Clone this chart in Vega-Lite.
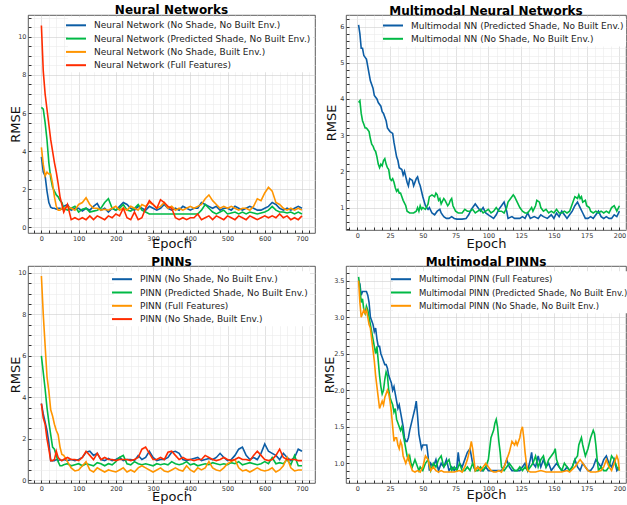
{
"$schema": "https://vega.github.io/schema/vega-lite/v6.json",
"padding": {"left": 8, "top": 3, "right": 0, "bottom": 0},
"background": "white",
"bounds": "flush",
"columns": 2,
"spacing": {"row": 33, "column": 31},
"resolve": {"scale": {"color": "independent"}, "legend": {"color": "independent"}},
"config": {
  "view": {"stroke": "#333", "strokeWidth": 0.8},
  "title": {"font": "DejaVu Sans", "fontSize": 12, "fontWeight": "bold", "color": "#000", "offset": -2.5, "anchor": "middle"},
  "axis": {"labelFont": "DejaVu Sans", "labelFontSize": 6.5, "labelColor": "#333", "titleFont": "DejaVu Sans", "titleFontSize": 13, "titleFontWeight": "normal", "titleColor": "#111", "domain": false, "tickColor": "#333", "tickSize": -3, "labelPadding": 5, "gridWidth": 0.6, "labelOverlap": false, "labelFlush": false},
  "legend": {"orient": "none", "symbolType": "M-2,0H2", "symbolStrokeWidth": 2, "symbolSize": 100, "labelFont": "DejaVu Sans", "labelFontSize": 9, "labelColor": "#222", "padding": 2, "fillColor": "white", "rowPadding": 2.3, "labelOffset": 12, "title": null, "labelLimit": 400}
},
"concat": [
{
  "width": 287, "height": 218,
  "title": "Neural Networks",
  "data": {"values": [
{"x":0,"a":3.7,"b":6.3,"c":4.2,"d":10.6},
{"x":5,"a":2.9,"b":6.2,"c":3.3,"d":8.2},
{"x":10,"a":2.7,"b":5.5,"c":2.7,"d":7.0},
{"x":15,"a":1.9,"b":4.6,"c":2.9,"d":6.2},
{"x":20,"a":1.3,"b":3.4,"c":2.8,"d":5.4},
{"x":25,"a":1.05,"b":2.6,"c":2.8,"d":4.6},
{"x":30,"a":1.0,"b":2.1,"c":2.3,"d":4.0},
{"x":35,"a":1.0,"b":1.9,"c":1.6,"d":3.4},
{"x":40,"a":0.95,"b":1.7,"c":1.1,"d":2.9},
{"x":45,"a":1.0,"b":1.6,"c":0.9,"d":2.3},
{"x":50,"a":1.0,"b":1.4,"c":0.9,"d":1.6},
{"x":55,"a":0.95,"b":1.3,"c":1.0,"d":1.2},
{"x":60,"a":1.1,"b":1.0,"c":1.0,"d":0.8},
{"x":70,"a":1.2,"b":0.9,"c":1.1,"d":1.2},
{"x":80,"a":0.9,"b":1.0,"c":1.0,"d":0.4},
{"x":90,"a":1.0,"b":1.1,"c":0.9,"d":0.5},
{"x":100,"a":1.0,"b":0.8,"c":1.2,"d":0.4},
{"x":110,"a":0.85,"b":0.95,"c":1.3,"d":0.5},
{"x":120,"a":1.0,"b":1.0,"c":1.55,"d":0.4},
{"x":130,"a":0.9,"b":0.8,"c":1.2,"d":0.6},
{"x":140,"a":1.1,"b":0.85,"c":1.0,"d":0.4},
{"x":150,"a":1.25,"b":0.9,"c":1.0,"d":0.6},
{"x":160,"a":0.9,"b":1.0,"c":0.9,"d":0.5},
{"x":170,"a":1.0,"b":1.3,"c":0.95,"d":0.4},
{"x":180,"a":0.8,"b":1.5,"c":0.9,"d":0.6},
{"x":190,"a":1.0,"b":1.0,"c":1.0,"d":0.5},
{"x":200,"a":0.9,"b":0.9,"c":1.1,"d":0.7},
{"x":210,"a":1.1,"b":1.0,"c":0.9,"d":0.6},
{"x":220,"a":1.3,"b":1.2,"c":1.0,"d":1.0},
{"x":230,"a":1.2,"b":0.9,"c":0.9,"d":0.5},
{"x":240,"a":1.0,"b":0.85,"c":1.1,"d":0.4},
{"x":250,"a":0.9,"b":1.0,"c":1.0,"d":0.8},
{"x":260,"a":1.1,"b":1.2,"c":0.9,"d":0.4},
{"x":270,"a":1.0,"b":0.9,"c":1.2,"d":0.5},
{"x":280,"a":0.9,"b":0.8,"c":1.1,"d":1.0},
{"x":290,"a":1.1,"b":0.7,"c":1.3,"d":1.4},
{"x":300,"a":1.0,"b":0.7,"c":1.2,"d":1.2},
{"x":310,"a":0.9,"b":0.7,"c":1.0,"d":1.0},
{"x":320,"a":1.0,"b":0.7,"c":1.1,"d":1.45},
{"x":330,"a":1.2,"b":0.7,"c":1.3,"d":1.3},
{"x":340,"a":1.0,"b":0.7,"c":1.0,"d":1.1},
{"x":350,"a":0.9,"b":0.7,"c":1.1,"d":1.0},
{"x":360,"a":1.0,"b":0.7,"c":0.9,"d":0.5},
{"x":370,"a":0.9,"b":0.7,"c":1.0,"d":0.4},
{"x":380,"a":1.1,"b":0.7,"c":0.9,"d":0.5},
{"x":390,"a":1.0,"b":0.7,"c":1.0,"d":0.4},
{"x":400,"a":0.9,"b":0.7,"c":1.1,"d":0.5},
{"x":410,"a":1.0,"b":0.7,"c":1.0,"d":0.5},
{"x":420,"a":1.0,"b":0.7,"c":1.1,"d":0.7},
{"x":430,"a":1.3,"b":0.9,"c":1.2,"d":0.4},
{"x":440,"a":1.2,"b":1.2,"c":1.5,"d":0.5},
{"x":450,"a":1.1,"b":1.0,"c":1.7,"d":0.6},
{"x":460,"a":1.0,"b":0.8,"c":1.4,"d":0.4},
{"x":470,"a":1.1,"b":0.7,"c":1.2,"d":0.6},
{"x":480,"a":0.9,"b":0.8,"c":1.0,"d":0.5},
{"x":490,"a":1.0,"b":0.9,"c":1.1,"d":0.4},
{"x":500,"a":1.0,"b":0.7,"c":1.0,"d":0.6},
{"x":510,"a":0.9,"b":0.75,"c":1.1,"d":0.5},
{"x":520,"a":1.1,"b":0.8,"c":1.0,"d":0.4},
{"x":530,"a":1.0,"b":0.7,"c":0.9,"d":0.6},
{"x":540,"a":0.9,"b":0.8,"c":1.0,"d":0.5},
{"x":550,"a":1.0,"b":0.7,"c":1.0,"d":0.4},
{"x":560,"a":1.1,"b":0.8,"c":0.9,"d":0.6},
{"x":570,"a":1.0,"b":0.75,"c":1.1,"d":0.5},
{"x":580,"a":0.9,"b":0.7,"c":1.5,"d":0.4},
{"x":590,"a":0.9,"b":0.75,"c":1.4,"d":0.5},
{"x":600,"a":1.0,"b":0.8,"c":1.8,"d":0.6},
{"x":610,"a":1.1,"b":0.9,"c":2.1,"d":0.5},
{"x":620,"a":1.3,"b":1.1,"c":1.9,"d":0.6},
{"x":630,"a":1.2,"b":0.9,"c":1.3,"d":0.5},
{"x":640,"a":1.0,"b":0.8,"c":1.2,"d":0.7},
{"x":650,"a":0.9,"b":0.8,"c":1.0,"d":0.5},
{"x":660,"a":1.0,"b":0.75,"c":0.9,"d":0.6},
{"x":670,"a":0.9,"b":0.8,"c":1.0,"d":0.4},
{"x":680,"a":1.0,"b":0.7,"c":0.9,"d":0.5},
{"x":690,"a":1.1,"b":0.8,"c":1.0,"d":0.4},
{"x":700,"a":1.0,"b":0.7,"c":0.9,"d":0.6}
  ]},
  "transform": [{"fold": ["a","b","c","d"], "as": ["s","y"]}],
  "mark": {"type": "line", "strokeWidth": 1.6},
  "encoding": {
    "x": {"field": "x", "type": "quantitative", "scale": {"domain": [-36, 735], "nice": false, "zero": false},
      "axis": {"title": "Epoch", "titleY": 14, "titleBaseline": "alphabetic",
        "values": [-20,0,20,40,60,80,100,120,140,160,180,200,220,240,260,280,300,320,340,360,380,400,420,440,460,480,500,520,540,560,580,600,620,640,660,680,700,720],
        "labelExpr": "datum.value % 100 === 0 ? datum.label : ''",
        "gridColor": {"condition": {"test": "datum.value % 100 === 0", "value": "#cfcfcf"}, "value": "#ebebeb"}}},
    "y": {"field": "y", "type": "quantitative", "scale": {"domain": [-0.3, 11.15], "nice": false, "zero": false},
      "axis": {"title": "RMSE", "titleX": -9, "titleBaseline": "alphabetic",
        "values": [0,0.5,1,1.5,2,2.5,3,3.5,4,4.5,5,5.5,6,6.5,7,7.5,8,8.5,9,9.5,10,10.5,11],
        "labelExpr": "datum.value % 2 === 0 ? format(datum.value, 'd') : ''",
        "gridColor": {"condition": {"test": "datum.value % 2 === 0", "value": "#cfcfcf"}, "value": "#ebebeb"}}},
    "color": {"field": "s", "type": "nominal", "scale": {"domain": ["a","b","c","d"], "range": ["#0C5DA5","#00B945","#FF9500","#FF2C00"]},
      "legend": {"legendX": 40, "legendY": 2.3, "labelExpr": "datum.value=='a'?'Neural Network (No Shade, No Built Env.)':datum.value=='b'?'Neural Network (Predicted Shade, No Built Env.)':datum.value=='c'?'Neural Network (No Shade, Built Env.)':'Neural Network (Full Features)'"}}
  }
},
{
  "width": 280, "height": 215,
  "title": "Multimodal Neural Networks",
  "data": {"values": [
{"s":"a","x":1,"y":6.05},{"s":"a","x":2,"y":5.8},{"s":"a","x":3,"y":5.4},{"s":"a","x":4,"y":5.4},{"s":"a","x":5,"y":5.2},{"s":"a","x":6,"y":5.15},{"s":"a","x":7,"y":5.1},{"s":"a","x":8,"y":4.9},{"s":"a","x":9,"y":4.7},{"s":"a","x":10,"y":4.5},{"s":"a","x":12,"y":4.3},{"s":"a","x":13,"y":4.1},{"s":"a","x":15,"y":4.0},{"s":"a","x":16,"y":3.9},{"s":"a","x":18,"y":3.8},{"s":"a","x":19,"y":3.65},{"s":"a","x":20,"y":3.6},{"s":"a","x":22,"y":3.4},{"s":"a","x":23,"y":3.2},{"s":"a","x":25,"y":3.1},{"s":"a","x":27,"y":3.05},{"s":"a","x":28,"y":2.8},{"s":"a","x":30,"y":2.4},{"s":"a","x":31,"y":2.3},{"s":"a","x":32,"y":2.1},{"s":"a","x":34,"y":2.05},{"s":"a","x":35,"y":1.9},{"s":"a","x":36,"y":2.0},{"s":"a","x":38,"y":1.7},{"s":"a","x":39,"y":1.6},{"s":"a","x":40,"y":1.8},{"s":"a","x":42,"y":1.75},{"s":"a","x":43,"y":1.6},{"s":"a","x":45,"y":1.8},{"s":"a","x":46,"y":1.85},{"s":"a","x":47,"y":1.7},{"s":"a","x":48,"y":1.6},{"s":"a","x":50,"y":1.3},{"s":"a","x":52,"y":1.05},{"s":"a","x":54,"y":0.95},{"s":"a","x":55,"y":1.0},{"s":"a","x":57,"y":0.85},{"s":"a","x":59,"y":0.8},{"s":"a","x":61,"y":0.9},{"s":"a","x":63,"y":0.95},{"s":"a","x":64,"y":0.85},{"s":"a","x":66,"y":0.75},{"s":"a","x":68,"y":0.7},{"s":"a","x":70,"y":0.7},{"s":"a","x":72,"y":0.75},{"s":"a","x":74,"y":0.7},{"s":"a","x":76,"y":0.68},{"s":"a","x":80,"y":0.68},{"s":"a","x":83,"y":0.7},{"s":"a","x":85,"y":0.8},{"s":"a","x":87,"y":0.95},{"s":"a","x":89,"y":1.05},{"s":"a","x":90,"y":1.1},{"s":"a","x":92,"y":1.0},{"s":"a","x":94,"y":0.9},{"s":"a","x":96,"y":1.0},{"s":"a","x":98,"y":0.85},{"s":"a","x":100,"y":0.8},{"s":"a","x":102,"y":0.75},{"s":"a","x":104,"y":0.7},{"s":"a","x":106,"y":0.8},{"s":"a","x":108,"y":0.95},{"s":"a","x":110,"y":1.05},{"s":"a","x":112,"y":1.15},{"s":"a","x":114,"y":0.9},{"s":"a","x":115,"y":0.7},{"s":"a","x":118,"y":0.75},{"s":"a","x":120,"y":0.7},{"s":"a","x":124,"y":0.7},{"s":"a","x":126,"y":0.75},{"s":"a","x":128,"y":0.7},{"s":"a","x":130,"y":0.85},{"s":"a","x":132,"y":0.7},{"s":"a","x":135,"y":0.75},{"s":"a","x":138,"y":0.7},{"s":"a","x":140,"y":0.8},{"s":"a","x":142,"y":0.75},{"s":"a","x":145,"y":0.7},{"s":"a","x":148,"y":0.8},{"s":"a","x":150,"y":0.7},{"s":"a","x":152,"y":0.85},{"s":"a","x":154,"y":0.75},{"s":"a","x":156,"y":0.9},{"s":"a","x":158,"y":0.8},{"s":"a","x":160,"y":0.7},{"s":"a","x":162,"y":0.8},{"s":"a","x":164,"y":0.9},{"s":"a","x":166,"y":1.05},{"s":"a","x":168,"y":1.15},{"s":"a","x":170,"y":1.0},{"s":"a","x":172,"y":0.85},{"s":"a","x":174,"y":0.7},{"s":"a","x":176,"y":0.7},{"s":"a","x":178,"y":0.75},{"s":"a","x":180,"y":0.7},{"s":"a","x":182,"y":0.8},{"s":"a","x":184,"y":0.9},{"s":"a","x":186,"y":0.75},{"s":"a","x":188,"y":0.7},{"s":"a","x":190,"y":0.75},{"s":"a","x":192,"y":0.7},{"s":"a","x":194,"y":0.7},{"s":"a","x":196,"y":0.8},{"s":"a","x":198,"y":0.75},{"s":"a","x":200,"y":0.9},
{"s":"b","x":1,"y":3.9},{"s":"b","x":2,"y":3.95},{"s":"b","x":3,"y":3.6},{"s":"b","x":4,"y":3.4},{"s":"b","x":5,"y":3.3},{"s":"b","x":6,"y":3.2},{"s":"b","x":7,"y":3.2},{"s":"b","x":8,"y":3.15},{"s":"b","x":9,"y":3.1},{"s":"b","x":10,"y":2.9},{"s":"b","x":11,"y":2.75},{"s":"b","x":12,"y":2.7},{"s":"b","x":13,"y":2.6},{"s":"b","x":14,"y":2.55},{"s":"b","x":15,"y":2.4},{"s":"b","x":16,"y":2.2},{"s":"b","x":17,"y":2.1},{"s":"b","x":18,"y":2.2},{"s":"b","x":19,"y":2.15},{"s":"b","x":20,"y":2.3},{"s":"b","x":21,"y":2.35},{"s":"b","x":22,"y":2.2},{"s":"b","x":23,"y":2.1},{"s":"b","x":24,"y":2.05},{"s":"b","x":25,"y":1.8},{"s":"b","x":26,"y":1.75},{"s":"b","x":27,"y":1.8},{"s":"b","x":28,"y":1.7},{"s":"b","x":29,"y":1.55},{"s":"b","x":30,"y":1.45},{"s":"b","x":31,"y":1.5},{"s":"b","x":32,"y":1.4},{"s":"b","x":33,"y":1.4},{"s":"b","x":35,"y":1.2},{"s":"b","x":37,"y":1.05},{"s":"b","x":38,"y":0.9},{"s":"b","x":40,"y":0.85},{"s":"b","x":43,"y":0.85},{"s":"b","x":45,"y":0.9},{"s":"b","x":46,"y":1.0},{"s":"b","x":47,"y":0.9},{"s":"b","x":48,"y":1.05},{"s":"b","x":49,"y":0.95},{"s":"b","x":50,"y":1.0},{"s":"b","x":52,"y":0.95},{"s":"b","x":54,"y":1.1},{"s":"b","x":55,"y":1.3},{"s":"b","x":57,"y":1.35},{"s":"b","x":59,"y":1.3},{"s":"b","x":60,"y":1.4},{"s":"b","x":61,"y":1.35},{"s":"b","x":62,"y":1.2},{"s":"b","x":63,"y":1.25},{"s":"b","x":64,"y":1.1},{"s":"b","x":66,"y":1.25},{"s":"b","x":67,"y":1.2},{"s":"b","x":69,"y":1.05},{"s":"b","x":70,"y":1.1},{"s":"b","x":71,"y":1.2},{"s":"b","x":72,"y":1.25},{"s":"b","x":73,"y":1.05},{"s":"b","x":75,"y":0.9},{"s":"b","x":77,"y":0.85},{"s":"b","x":80,"y":0.85},{"s":"b","x":82,"y":0.95},{"s":"b","x":84,"y":0.9},{"s":"b","x":86,"y":0.9},{"s":"b","x":88,"y":0.95},{"s":"b","x":90,"y":0.85},{"s":"b","x":92,"y":0.9},{"s":"b","x":94,"y":0.95},{"s":"b","x":96,"y":0.85},{"s":"b","x":98,"y":0.9},{"s":"b","x":100,"y":0.95},{"s":"b","x":102,"y":0.85},{"s":"b","x":104,"y":0.9},{"s":"b","x":106,"y":1.0},{"s":"b","x":108,"y":0.9},{"s":"b","x":110,"y":0.9},{"s":"b","x":112,"y":0.85},{"s":"b","x":114,"y":1.0},{"s":"b","x":115,"y":1.15},{"s":"b","x":117,"y":1.25},{"s":"b","x":119,"y":1.35},{"s":"b","x":120,"y":1.3},{"s":"b","x":122,"y":1.15},{"s":"b","x":124,"y":1.0},{"s":"b","x":126,"y":0.9},{"s":"b","x":128,"y":0.85},{"s":"b","x":130,"y":0.85},{"s":"b","x":132,"y":0.95},{"s":"b","x":133,"y":1.0},{"s":"b","x":134,"y":0.9},{"s":"b","x":136,"y":1.05},{"s":"b","x":137,"y":1.2},{"s":"b","x":139,"y":1.15},{"s":"b","x":140,"y":1.0},{"s":"b","x":142,"y":0.9},{"s":"b","x":144,"y":0.95},{"s":"b","x":146,"y":0.85},{"s":"b","x":148,"y":0.9},{"s":"b","x":150,"y":0.85},{"s":"b","x":152,"y":0.95},{"s":"b","x":154,"y":0.85},{"s":"b","x":156,"y":0.85},{"s":"b","x":158,"y":0.9},{"s":"b","x":160,"y":0.85},{"s":"b","x":162,"y":0.9},{"s":"b","x":164,"y":1.1},{"s":"b","x":166,"y":1.3},{"s":"b","x":168,"y":1.25},{"s":"b","x":169,"y":1.35},{"s":"b","x":170,"y":1.25},{"s":"b","x":171,"y":1.3},{"s":"b","x":172,"y":1.15},{"s":"b","x":174,"y":1.2},{"s":"b","x":175,"y":1.05},{"s":"b","x":177,"y":1.0},{"s":"b","x":178,"y":0.9},{"s":"b","x":180,"y":0.85},{"s":"b","x":182,"y":0.9},{"s":"b","x":184,"y":0.85},{"s":"b","x":186,"y":0.9},{"s":"b","x":188,"y":0.85},{"s":"b","x":190,"y":0.9},{"s":"b","x":192,"y":0.85},{"s":"b","x":194,"y":1.0},{"s":"b","x":196,"y":1.05},{"s":"b","x":198,"y":0.9},{"s":"b","x":200,"y":1.05}
  ]},
  "mark": {"type": "line", "strokeWidth": 1.6},
  "encoding": {
    "x": {"field": "x", "type": "quantitative", "scale": {"domain": [-8.6, 205], "nice": false, "zero": false},
      "axis": {"title": "Epoch", "titleY": 17, "titleBaseline": "alphabetic",
        "values": [-6.25,0,6.25,12.5,18.75,25,31.25,37.5,43.75,50,56.25,62.5,68.75,75,81.25,87.5,93.75,100,106.25,112.5,118.75,125,131.25,137.5,143.75,150,156.25,162.5,168.75,175,181.25,187.5,193.75,200],
        "labelExpr": "datum.value % 25 === 0 ? datum.label : ''",
        "gridColor": {"condition": {"test": "datum.value % 25 === 0", "value": "#cfcfcf"}, "value": "#ebebeb"}}},
    "y": {"field": "y", "type": "quantitative", "scale": {"domain": [0.38, 6.32], "nice": false, "zero": false},
      "axis": {"title": "RMSE", "titleX": -11, "titleBaseline": "alphabetic",
        "values": [0.4,0.6,0.8,1,1.2,1.4,1.6,1.8,2,2.2,2.4,2.6,2.8,3,3.2,3.4,3.6,3.8,4,4.2,4.4,4.6,4.8,5,5.2,5.4,5.6,5.8,6,6.2],
        "labelExpr": "abs(datum.value - round(datum.value)) < 0.001 ? format(datum.value, 'd') : ''",
        "gridColor": {"condition": {"test": "abs(datum.value - round(datum.value)) < 0.001", "value": "#cfcfcf"}, "value": "#ebebeb"}}},
    "color": {"field": "s", "type": "nominal", "scale": {"domain": ["a","b"], "range": ["#0C5DA5","#00B945"]},
      "legend": {"legendX": 39, "legendY": 2.5, "labelFontSize": 9, "labelExpr": "datum.value=='a'?'Multimodal NN (Predicted Shade, No Built Env.)':'Multimodal NN (No Shade, No Built Env.)'"}}
  }
},
{
  "width": 287, "height": 217,
  "title": "PINNs",
  "data": {"values": [
{"x":0,"a":3.7,"b":6.0,"c":9.85,"d":3.7},
{"x":5,"a":3.2,"b":5.2,"c":8.0,"d":3.0},
{"x":10,"a":2.8,"b":4.4,"c":6.5,"d":2.7},
{"x":15,"a":2.4,"b":3.5,"c":5.0,"d":2.0},
{"x":20,"a":1.8,"b":2.8,"c":4.3,"d":1.5},
{"x":25,"a":0.95,"b":2.2,"c":3.4,"d":0.95},
{"x":30,"a":0.95,"b":1.6,"c":3.1,"d":0.95},
{"x":35,"a":0.95,"b":1.5,"c":2.7,"d":1.0},
{"x":40,"a":1.0,"b":1.2,"c":2.4,"d":1.4},
{"x":45,"a":0.95,"b":0.9,"c":2.2,"d":1.1},
{"x":50,"a":1.0,"b":0.7,"c":1.6,"d":1.0},
{"x":55,"a":0.95,"b":0.7,"c":1.25,"d":0.95},
{"x":60,"a":1.0,"b":0.75,"c":1.2,"d":1.0},
{"x":70,"a":0.95,"b":0.8,"c":0.9,"d":1.1},
{"x":80,"a":1.0,"b":0.7,"c":0.6,"d":1.0},
{"x":90,"a":0.95,"b":0.75,"c":0.45,"d":1.0},
{"x":100,"a":1.0,"b":0.8,"c":0.5,"d":0.95},
{"x":110,"a":1.1,"b":0.7,"c":0.7,"d":1.1},
{"x":120,"a":1.35,"b":0.8,"c":0.9,"d":1.4},
{"x":130,"a":1.4,"b":0.75,"c":0.5,"d":1.2},
{"x":140,"a":1.2,"b":0.7,"c":0.4,"d":1.0},
{"x":150,"a":1.3,"b":0.85,"c":0.6,"d":1.3},
{"x":160,"a":1.0,"b":0.8,"c":0.5,"d":1.0},
{"x":170,"a":0.95,"b":0.7,"c":0.4,"d":1.1},
{"x":180,"a":1.05,"b":0.8,"c":0.5,"d":1.0},
{"x":190,"a":0.95,"b":0.75,"c":0.45,"d":1.0},
{"x":200,"a":1.0,"b":0.9,"c":0.4,"d":0.95},
{"x":210,"a":1.1,"b":1.1,"c":0.5,"d":1.0},
{"x":220,"a":0.95,"b":1.2,"c":0.6,"d":1.0},
{"x":230,"a":1.0,"b":0.8,"c":0.4,"d":1.0},
{"x":240,"a":1.0,"b":0.75,"c":0.5,"d":0.95},
{"x":250,"a":0.95,"b":0.9,"c":0.4,"d":1.0},
{"x":260,"a":1.2,"b":0.8,"c":0.6,"d":1.1},
{"x":270,"a":1.0,"b":0.75,"c":0.7,"d":1.5},
{"x":280,"a":1.1,"b":0.8,"c":0.6,"d":1.6},
{"x":290,"a":1.4,"b":0.75,"c":0.5,"d":1.3},
{"x":300,"a":1.1,"b":0.7,"c":0.4,"d":1.0},
{"x":310,"a":0.95,"b":0.8,"c":0.5,"d":1.0},
{"x":320,"a":1.0,"b":0.75,"c":0.6,"d":1.1},
{"x":330,"a":1.0,"b":0.8,"c":0.45,"d":1.0},
{"x":340,"a":1.1,"b":0.75,"c":0.4,"d":1.35},
{"x":350,"a":1.35,"b":0.9,"c":0.5,"d":1.4},
{"x":360,"a":1.4,"b":0.8,"c":0.6,"d":1.2},
{"x":370,"a":1.3,"b":0.75,"c":0.5,"d":1.0},
{"x":380,"a":1.0,"b":0.8,"c":0.45,"d":1.1},
{"x":390,"a":0.95,"b":0.9,"c":0.7,"d":1.0},
{"x":400,"a":1.0,"b":0.75,"c":0.5,"d":1.0},
{"x":410,"a":1.05,"b":0.8,"c":0.4,"d":0.95},
{"x":420,"a":1.1,"b":0.7,"c":0.6,"d":1.0},
{"x":430,"a":0.95,"b":0.75,"c":0.5,"d":1.0},
{"x":440,"a":1.0,"b":0.8,"c":0.6,"d":1.2},
{"x":450,"a":1.05,"b":0.75,"c":0.9,"d":1.1},
{"x":460,"a":1.0,"b":0.85,"c":0.6,"d":1.0},
{"x":470,"a":1.1,"b":0.8,"c":0.5,"d":0.95},
{"x":480,"a":1.3,"b":0.75,"c":0.45,"d":1.0},
{"x":490,"a":1.1,"b":0.8,"c":0.6,"d":1.1},
{"x":500,"a":0.95,"b":0.75,"c":0.8,"d":1.0},
{"x":510,"a":1.0,"b":0.85,"c":0.9,"d":0.95},
{"x":520,"a":1.2,"b":0.8,"c":1.0,"d":1.0},
{"x":530,"a":1.5,"b":0.9,"c":0.6,"d":1.1},
{"x":540,"a":1.6,"b":0.75,"c":0.45,"d":1.0},
{"x":550,"a":1.2,"b":0.8,"c":0.5,"d":1.0},
{"x":560,"a":1.0,"b":0.85,"c":0.4,"d":0.95},
{"x":570,"a":1.1,"b":0.8,"c":0.5,"d":1.2},
{"x":580,"a":1.0,"b":0.75,"c":0.6,"d":1.4},
{"x":590,"a":1.3,"b":0.8,"c":0.5,"d":1.2},
{"x":600,"a":1.75,"b":0.9,"c":0.45,"d":1.0},
{"x":610,"a":1.4,"b":0.8,"c":0.5,"d":0.95},
{"x":620,"a":1.3,"b":1.1,"c":0.6,"d":1.0},
{"x":630,"a":1.2,"b":0.8,"c":0.4,"d":1.2},
{"x":640,"a":1.0,"b":0.85,"c":0.5,"d":1.5},
{"x":650,"a":1.3,"b":0.8,"c":0.7,"d":1.1},
{"x":660,"a":1.1,"b":1.0,"c":1.1,"d":1.0},
{"x":670,"a":0.95,"b":0.75,"c":0.6,"d":1.0},
{"x":680,"a":1.1,"b":1.2,"c":0.45,"d":1.0},
{"x":690,"a":1.5,"b":0.7,"c":0.5,"d":0.95},
{"x":700,"a":1.4,"b":0.7,"c":0.5,"d":0.95}
  ]},
  "transform": [{"fold": ["a","b","c","d"], "as": ["s","y"]}],
  "mark": {"type": "line", "strokeWidth": 1.6},
  "encoding": {
    "x": {"field": "x", "type": "quantitative", "scale": {"domain": [-36, 735], "nice": false, "zero": false},
      "axis": {"title": "Epoch", "titleY": 17, "titleBaseline": "alphabetic",
        "values": [-20,0,20,40,60,80,100,120,140,160,180,200,220,240,260,280,300,320,340,360,380,400,420,440,460,480,500,520,540,560,580,600,620,640,660,680,700,720],
        "labelExpr": "datum.value % 100 === 0 ? datum.label : ''",
        "gridColor": {"condition": {"test": "datum.value % 100 === 0", "value": "#cfcfcf"}, "value": "#ebebeb"}}},
    "y": {"field": "y", "type": "quantitative", "scale": {"domain": [-0.13, 10.33], "nice": false, "zero": false},
      "axis": {"title": "RMSE", "titleX": -9, "titleBaseline": "alphabetic",
        "values": [0,0.5,1,1.5,2,2.5,3,3.5,4,4.5,5,5.5,6,6.5,7,7.5,8,8.5,9,9.5,10],
        "labelExpr": "datum.value % 2 === 0 ? format(datum.value, 'd') : ''",
        "gridColor": {"condition": {"test": "datum.value % 2 === 0", "value": "#cfcfcf"}, "value": "#ebebeb"}}},
    "color": {"field": "s", "type": "nominal", "scale": {"domain": ["a","b","c","d"], "range": ["#0C5DA5","#00B945","#FF9500","#FF2C00"]},
      "legend": {"legendX": 86, "legendY": 5.2, "labelExpr": "datum.value=='a'?'PINN (No Shade, No Built Env.)':datum.value=='b'?'PINN (Predicted Shade, No Built Env.)':datum.value=='c'?'PINN (Full Features)':'PINN (No Shade, Built Env.)'"}}
  }
},
{
  "width": 280, "height": 217,
  "title": "Multimodal PINNs",
  "data": {"values": [
{"s":"a","x":1,"y":3.5},{"s":"a","x":2,"y":3.45},{"s":"a","x":3,"y":3.3},{"s":"a","x":4,"y":3.35},{"s":"a","x":5,"y":3.35},{"s":"a","x":7,"y":3.35},{"s":"a","x":8,"y":3.3},{"s":"a","x":9,"y":3.2},{"s":"a","x":10,"y":3.0},{"s":"a","x":11,"y":2.95},{"s":"a","x":12,"y":2.9},{"s":"a","x":13,"y":2.8},{"s":"a","x":14,"y":2.85},{"s":"a","x":15,"y":2.7},{"s":"a","x":16,"y":2.6},{"s":"a","x":17,"y":2.6},{"s":"a","x":18,"y":2.5},{"s":"a","x":19,"y":2.45},{"s":"a","x":20,"y":2.4},{"s":"a","x":21,"y":2.35},{"s":"a","x":22,"y":2.35},{"s":"a","x":23,"y":2.3},{"s":"a","x":24,"y":2.2},{"s":"a","x":25,"y":2.15},{"s":"a","x":26,"y":2.1},{"s":"a","x":27,"y":2.0},{"s":"a","x":28,"y":2.05},{"s":"a","x":29,"y":1.95},{"s":"a","x":30,"y":1.85},{"s":"a","x":31,"y":1.75},{"s":"a","x":32,"y":1.8},{"s":"a","x":33,"y":1.7},{"s":"a","x":34,"y":1.6},{"s":"a","x":35,"y":1.5},{"s":"a","x":36,"y":1.35},{"s":"a","x":37,"y":1.3},{"s":"a","x":38,"y":1.3},{"s":"a","x":39,"y":1.35},{"s":"a","x":40,"y":1.45},{"s":"a","x":42,"y":1.6},{"s":"a","x":44,"y":1.75},{"s":"a","x":45,"y":1.85},{"s":"a","x":46,"y":1.65},{"s":"a","x":47,"y":1.4},{"s":"a","x":48,"y":1.3},{"s":"a","x":49,"y":1.2},{"s":"a","x":50,"y":1.25},{"s":"a","x":52,"y":1.25},{"s":"a","x":53,"y":1.25},{"s":"a","x":54,"y":1.1},{"s":"a","x":55,"y":0.9},{"s":"a","x":56,"y":1.0},{"s":"a","x":58,"y":0.95},{"s":"a","x":60,"y":1.05},{"s":"a","x":62,"y":0.9},{"s":"a","x":64,"y":1.0},{"s":"a","x":66,"y":0.95},{"s":"a","x":68,"y":1.05},{"s":"a","x":70,"y":0.9},{"s":"a","x":72,"y":0.95},{"s":"a","x":74,"y":0.9},{"s":"a","x":76,"y":0.95},{"s":"a","x":77,"y":1.15},{"s":"a","x":78,"y":1.0},{"s":"a","x":80,"y":0.95},{"s":"a","x":82,"y":1.05},{"s":"a","x":84,"y":1.15},{"s":"a","x":86,"y":1.2},{"s":"a","x":88,"y":1.0},{"s":"a","x":90,"y":0.9},{"s":"a","x":92,"y":0.95},{"s":"a","x":94,"y":0.9},{"s":"a","x":96,"y":0.9},{"s":"a","x":98,"y":0.95},{"s":"a","x":100,"y":0.9},{"s":"a","x":105,"y":0.9},{"s":"a","x":110,"y":0.9},{"s":"a","x":112,"y":0.95},{"s":"a","x":114,"y":1.05},{"s":"a","x":116,"y":0.95},{"s":"a","x":118,"y":0.9},{"s":"a","x":120,"y":0.9},{"s":"a","x":124,"y":0.9},{"s":"a","x":126,"y":0.95},{"s":"a","x":128,"y":1.0},{"s":"a","x":130,"y":0.9},{"s":"a","x":132,"y":1.05},{"s":"a","x":133,"y":1.15},{"s":"a","x":134,"y":1.0},{"s":"a","x":136,"y":0.95},{"s":"a","x":138,"y":1.1},{"s":"a","x":140,"y":0.95},{"s":"a","x":142,"y":1.05},{"s":"a","x":144,"y":0.95},{"s":"a","x":146,"y":1.0},{"s":"a","x":148,"y":0.9},{"s":"a","x":150,"y":0.95},{"s":"a","x":152,"y":1.0},{"s":"a","x":154,"y":0.95},{"s":"a","x":156,"y":0.9},{"s":"a","x":158,"y":0.9},{"s":"a","x":160,"y":0.95},{"s":"a","x":162,"y":0.9},{"s":"a","x":164,"y":0.95},{"s":"a","x":166,"y":1.05},{"s":"a","x":168,"y":0.95},{"s":"a","x":170,"y":0.9},{"s":"a","x":172,"y":1.0},{"s":"a","x":174,"y":0.95},{"s":"a","x":176,"y":0.9},{"s":"a","x":178,"y":0.9},{"s":"a","x":180,"y":0.95},{"s":"a","x":182,"y":1.05},{"s":"a","x":184,"y":1.0},{"s":"a","x":186,"y":0.95},{"s":"a","x":188,"y":1.05},{"s":"a","x":190,"y":1.1},{"s":"a","x":192,"y":1.0},{"s":"a","x":194,"y":0.95},{"s":"a","x":196,"y":1.05},{"s":"a","x":198,"y":0.9},{"s":"a","x":200,"y":0.95},
{"s":"b","x":1,"y":3.55},{"s":"b","x":2,"y":3.4},{"s":"b","x":3,"y":3.2},{"s":"b","x":4,"y":3.25},{"s":"b","x":5,"y":3.1},{"s":"b","x":6,"y":3.05},{"s":"b","x":7,"y":3.15},{"s":"b","x":8,"y":3.1},{"s":"b","x":9,"y":3.0},{"s":"b","x":10,"y":2.9},{"s":"b","x":11,"y":2.8},{"s":"b","x":12,"y":2.7},{"s":"b","x":13,"y":2.6},{"s":"b","x":14,"y":2.5},{"s":"b","x":15,"y":2.6},{"s":"b","x":16,"y":2.4},{"s":"b","x":17,"y":2.2},{"s":"b","x":18,"y":2.05},{"s":"b","x":19,"y":1.95},{"s":"b","x":20,"y":2.0},{"s":"b","x":21,"y":2.15},{"s":"b","x":22,"y":2.25},{"s":"b","x":23,"y":2.2},{"s":"b","x":24,"y":2.0},{"s":"b","x":25,"y":1.9},{"s":"b","x":26,"y":1.85},{"s":"b","x":27,"y":1.8},{"s":"b","x":28,"y":1.7},{"s":"b","x":29,"y":1.75},{"s":"b","x":30,"y":1.6},{"s":"b","x":31,"y":1.55},{"s":"b","x":32,"y":1.5},{"s":"b","x":33,"y":1.45},{"s":"b","x":34,"y":1.5},{"s":"b","x":35,"y":1.4},{"s":"b","x":36,"y":1.3},{"s":"b","x":37,"y":1.2},{"s":"b","x":38,"y":1.1},{"s":"b","x":39,"y":1.05},{"s":"b","x":40,"y":1.1},{"s":"b","x":41,"y":1.0},{"s":"b","x":42,"y":0.95},{"s":"b","x":43,"y":1.0},{"s":"b","x":44,"y":1.05},{"s":"b","x":45,"y":1.0},{"s":"b","x":46,"y":0.95},{"s":"b","x":47,"y":0.9},{"s":"b","x":48,"y":0.95},{"s":"b","x":50,"y":0.9},{"s":"b","x":52,"y":1.0},{"s":"b","x":54,"y":1.05},{"s":"b","x":56,"y":0.9},{"s":"b","x":58,"y":1.0},{"s":"b","x":60,"y":0.95},{"s":"b","x":62,"y":1.05},{"s":"b","x":64,"y":1.1},{"s":"b","x":66,"y":0.95},{"s":"b","x":68,"y":1.0},{"s":"b","x":70,"y":1.05},{"s":"b","x":72,"y":0.9},{"s":"b","x":74,"y":0.95},{"s":"b","x":76,"y":0.9},{"s":"b","x":78,"y":1.0},{"s":"b","x":80,"y":0.9},{"s":"b","x":82,"y":0.9},{"s":"b","x":84,"y":0.95},{"s":"b","x":86,"y":0.9},{"s":"b","x":88,"y":1.0},{"s":"b","x":90,"y":0.9},{"s":"b","x":92,"y":0.9},{"s":"b","x":94,"y":0.95},{"s":"b","x":96,"y":0.9},{"s":"b","x":98,"y":0.95},{"s":"b","x":100,"y":1.05},{"s":"b","x":101,"y":1.2},{"s":"b","x":102,"y":1.35},{"s":"b","x":104,"y":1.45},{"s":"b","x":105,"y":1.55},{"s":"b","x":106,"y":1.6},{"s":"b","x":107,"y":1.5},{"s":"b","x":108,"y":1.3},{"s":"b","x":109,"y":1.15},{"s":"b","x":110,"y":0.95},{"s":"b","x":112,"y":0.9},{"s":"b","x":114,"y":0.95},{"s":"b","x":116,"y":1.0},{"s":"b","x":118,"y":0.95},{"s":"b","x":120,"y":0.9},{"s":"b","x":122,"y":0.9},{"s":"b","x":124,"y":0.95},{"s":"b","x":126,"y":0.9},{"s":"b","x":128,"y":0.95},{"s":"b","x":130,"y":0.9},{"s":"b","x":132,"y":0.95},{"s":"b","x":134,"y":1.0},{"s":"b","x":136,"y":1.1},{"s":"b","x":138,"y":0.95},{"s":"b","x":140,"y":1.05},{"s":"b","x":142,"y":1.1},{"s":"b","x":144,"y":0.95},{"s":"b","x":146,"y":1.05},{"s":"b","x":148,"y":1.1},{"s":"b","x":150,"y":1.15},{"s":"b","x":151,"y":1.2},{"s":"b","x":152,"y":1.05},{"s":"b","x":154,"y":0.95},{"s":"b","x":156,"y":0.9},{"s":"b","x":158,"y":1.0},{"s":"b","x":160,"y":0.95},{"s":"b","x":162,"y":0.9},{"s":"b","x":164,"y":0.95},{"s":"b","x":166,"y":1.05},{"s":"b","x":168,"y":1.1},{"s":"b","x":169,"y":1.25},{"s":"b","x":170,"y":1.3},{"s":"b","x":171,"y":1.35},{"s":"b","x":172,"y":1.25},{"s":"b","x":174,"y":1.1},{"s":"b","x":176,"y":1.2},{"s":"b","x":178,"y":1.35},{"s":"b","x":179,"y":1.4},{"s":"b","x":180,"y":1.45},{"s":"b","x":181,"y":1.4},{"s":"b","x":182,"y":1.25},{"s":"b","x":183,"y":1.05},{"s":"b","x":184,"y":0.9},{"s":"b","x":186,"y":0.95},{"s":"b","x":188,"y":0.9},{"s":"b","x":190,"y":0.9},{"s":"b","x":192,"y":0.95},{"s":"b","x":194,"y":1.1},{"s":"b","x":196,"y":1.05},{"s":"b","x":198,"y":0.95},{"s":"b","x":200,"y":0.9},
{"s":"c","x":1,"y":3.5},{"s":"c","x":2,"y":3.2},{"s":"c","x":3,"y":3.0},{"s":"c","x":4,"y":3.05},{"s":"c","x":5,"y":3.1},{"s":"c","x":6,"y":3.05},{"s":"c","x":7,"y":3.1},{"s":"c","x":8,"y":3.0},{"s":"c","x":9,"y":2.9},{"s":"c","x":10,"y":2.85},{"s":"c","x":11,"y":2.7},{"s":"c","x":12,"y":2.55},{"s":"c","x":13,"y":2.4},{"s":"c","x":14,"y":2.2},{"s":"c","x":15,"y":2.05},{"s":"c","x":16,"y":1.9},{"s":"c","x":17,"y":1.75},{"s":"c","x":18,"y":1.8},{"s":"c","x":19,"y":1.85},{"s":"c","x":20,"y":1.8},{"s":"c","x":21,"y":1.9},{"s":"c","x":22,"y":1.95},{"s":"c","x":23,"y":2.0},{"s":"c","x":24,"y":1.95},{"s":"c","x":25,"y":1.85},{"s":"c","x":26,"y":1.7},{"s":"c","x":27,"y":1.5},{"s":"c","x":28,"y":1.3},{"s":"c","x":29,"y":1.35},{"s":"c","x":30,"y":1.35},{"s":"c","x":31,"y":1.25},{"s":"c","x":32,"y":1.2},{"s":"c","x":33,"y":1.3},{"s":"c","x":34,"y":1.25},{"s":"c","x":35,"y":1.1},{"s":"c","x":36,"y":1.05},{"s":"c","x":37,"y":1.0},{"s":"c","x":38,"y":1.05},{"s":"c","x":39,"y":1.1},{"s":"c","x":40,"y":1.0},{"s":"c","x":41,"y":0.95},{"s":"c","x":42,"y":0.9},{"s":"c","x":44,"y":0.88},{"s":"c","x":46,"y":0.9},{"s":"c","x":48,"y":0.88},{"s":"c","x":50,"y":0.95},{"s":"c","x":52,"y":1.1},{"s":"c","x":54,"y":1.05},{"s":"c","x":56,"y":0.9},{"s":"c","x":58,"y":0.95},{"s":"c","x":60,"y":0.9},{"s":"c","x":62,"y":0.88},{"s":"c","x":64,"y":0.9},{"s":"c","x":66,"y":0.88},{"s":"c","x":70,"y":0.88},{"s":"c","x":74,"y":0.88},{"s":"c","x":78,"y":0.9},{"s":"c","x":80,"y":0.88},{"s":"c","x":82,"y":0.95},{"s":"c","x":84,"y":1.05},{"s":"c","x":86,"y":1.2},{"s":"c","x":87,"y":1.3},{"s":"c","x":88,"y":1.2},{"s":"c","x":89,"y":1.05},{"s":"c","x":90,"y":0.9},{"s":"c","x":92,"y":0.95},{"s":"c","x":94,"y":0.9},{"s":"c","x":96,"y":0.95},{"s":"c","x":98,"y":1.0},{"s":"c","x":100,"y":0.95},{"s":"c","x":102,"y":0.9},{"s":"c","x":104,"y":0.88},{"s":"c","x":106,"y":0.88},{"s":"c","x":108,"y":0.9},{"s":"c","x":110,"y":0.88},{"s":"c","x":112,"y":0.95},{"s":"c","x":114,"y":1.05},{"s":"c","x":116,"y":1.15},{"s":"c","x":118,"y":1.3},{"s":"c","x":120,"y":1.25},{"s":"c","x":121,"y":1.3},{"s":"c","x":122,"y":1.25},{"s":"c","x":124,"y":1.35},{"s":"c","x":125,"y":1.45},{"s":"c","x":126,"y":1.5},{"s":"c","x":127,"y":1.35},{"s":"c","x":128,"y":1.15},{"s":"c","x":129,"y":1.0},{"s":"c","x":130,"y":0.9},{"s":"c","x":132,"y":0.88},{"s":"c","x":136,"y":0.88},{"s":"c","x":140,"y":0.9},{"s":"c","x":144,"y":0.88},{"s":"c","x":150,"y":0.88},{"s":"c","x":156,"y":0.88},{"s":"c","x":160,"y":0.9},{"s":"c","x":162,"y":0.88},{"s":"c","x":166,"y":0.95},{"s":"c","x":168,"y":1.0},{"s":"c","x":170,"y":1.05},{"s":"c","x":172,"y":1.0},{"s":"c","x":174,"y":0.95},{"s":"c","x":176,"y":0.9},{"s":"c","x":178,"y":0.88},{"s":"c","x":182,"y":0.88},{"s":"c","x":186,"y":0.9},{"s":"c","x":188,"y":0.95},{"s":"c","x":190,"y":1.05},{"s":"c","x":192,"y":0.95},{"s":"c","x":194,"y":0.9},{"s":"c","x":196,"y":1.0},{"s":"c","x":198,"y":1.1},{"s":"c","x":199,"y":1.05},{"s":"c","x":200,"y":0.9}
  ]},
  "mark": {"type": "line", "strokeWidth": 1.6},
  "encoding": {
    "x": {"field": "x", "type": "quantitative", "scale": {"domain": [-8.6, 205], "nice": false, "zero": false},
      "axis": {"title": "Epoch", "titleY": 15, "titleBaseline": "alphabetic",
        "values": [-6.25,0,6.25,12.5,18.75,25,31.25,37.5,43.75,50,56.25,62.5,68.75,75,81.25,87.5,93.75,100,106.25,112.5,118.75,125,131.25,137.5,143.75,150,156.25,162.5,168.75,175,181.25,187.5,193.75,200],
        "labelExpr": "datum.value % 25 === 0 ? datum.label : ''",
        "gridColor": {"condition": {"test": "datum.value % 25 === 0", "value": "#cfcfcf"}, "value": "#ebebeb"}}},
    "y": {"field": "y", "type": "quantitative", "scale": {"domain": [0.73, 3.7], "nice": false, "zero": false},
      "axis": {"title": "RMSE", "titleX": -13, "titleBaseline": "alphabetic",
        "values": [0.8,0.9,1,1.1,1.2,1.3,1.4,1.5,1.6,1.7,1.8,1.9,2,2.1,2.2,2.3,2.4,2.5,2.6,2.7,2.8,2.9,3,3.1,3.2,3.3,3.4,3.5,3.6],
        "labelExpr": "abs(datum.value*2 - round(datum.value*2)) < 0.001 ? format(datum.value, '.1f') : ''",
        "gridColor": {"condition": {"test": "abs(datum.value*2 - round(datum.value*2)) < 0.001", "value": "#cfcfcf"}, "value": "#ebebeb"}}},
    "color": {"field": "s", "type": "nominal", "scale": {"domain": ["a","b","c"], "range": ["#0C5DA5","#00B945","#FF9500"]},
      "legend": {"legendX": 47, "legendY": 5.2, "labelFontSize": 8.5, "labelExpr": "datum.value=='a'?'Multimodal PINN (Full Features)':datum.value=='b'?'Multimodal PINN (Predicted Shade, No Built Env.)':'Multimodal PINN (No Shade, No Built Env.)'"}}
  }
}
]
}
